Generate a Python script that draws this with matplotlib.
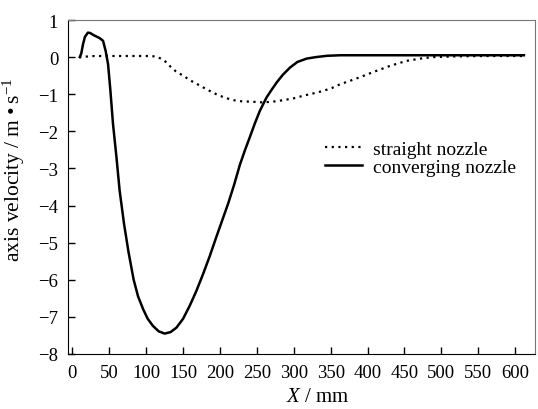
import matplotlib
matplotlib.use("Agg")
import matplotlib.pyplot as plt

plt.rcParams['font.family'] = ['Liberation Serif', 'DejaVu Serif']
plt.rcParams['mathtext.fontset'] = 'custom'
plt.rcParams['mathtext.rm'] = 'Liberation Serif'
plt.rcParams['mathtext.it'] = 'Liberation Serif:italic'

# converging nozzle
conv_x = [10, 12, 14.4, 17, 21, 24, 28, 33, 37, 41.5, 45, 48.3, 51.5, 55, 59.7, 64, 70, 76,
          83, 89, 96, 102, 109, 117, 125, 133, 141, 150, 159, 168, 177, 186, 195, 203, 211,
          219, 227, 234, 240.6, 247, 254, 263, 270, 277, 285, 295, 305, 317.5, 330, 345,
          363, 400, 450, 500, 550, 612]
conv_v = [0, 0.1, 0.35, 0.55, 0.66, 0.65, 0.6, 0.55, 0.51, 0.44, 0.17, -0.19, -0.91, -1.8,
          -2.7, -3.6, -4.5, -5.25, -6.0, -6.45, -6.8, -7.05, -7.24, -7.39, -7.45, -7.41,
          -7.29, -7.05, -6.7, -6.3, -5.85, -5.37, -4.85, -4.4, -3.95, -3.45, -2.9, -2.5,
          -2.15, -1.8, -1.45, -1.09, -0.88, -0.68, -0.48, -0.28, -0.13, -0.04, 0.0, 0.035,
          0.05, 0.05, 0.05, 0.05, 0.05, 0.05]

# straight nozzle
str_x = [9, 30, 60, 100, 112, 120, 126, 132, 140, 150, 160, 173, 184, 195, 206, 218, 229,
         240.6, 250, 258, 272, 286, 300, 313, 326, 340, 352, 363, 376, 390, 408, 430, 453,
         475, 489, 520, 560, 612]
str_v = [0, 0.03, 0.03, 0.03, 0.02, -0.04, -0.12, -0.24, -0.38, -0.5, -0.63, -0.77, -0.89,
         -1.0, -1.09, -1.16, -1.19, -1.2, -1.21, -1.22, -1.2, -1.16, -1.11, -1.04, -0.98,
         -0.91, -0.83, -0.73, -0.64, -0.54, -0.40, -0.24, -0.1, -0.03, 0.0, 0.02, 0.03, 0.03]

xticks = list(range(0, 601, 50))
yticks = list(range(-8, 2))

fig = plt.figure(figsize=(5.38, 4.10), dpi=100)
ax = fig.add_axes([68/538, 1-355/410, (535-68)/538, (355-21)/410])

ax.plot(str_x, str_v, color='black', lw=1.6, linestyle=(0, (1, 2)), label='straight nozzle')
ax.plot(conv_x, conv_v, color='black', lw=1.8, label='converging nozzle')

ax.set_xlim(-6, 627)
ax.set_ylim(-8, 1)
ax.set_xticks(xticks)
ax.set_yticks(yticks)
ax.tick_params(direction='in', length=5, width=1, labelsize=13.5, pad=7, top=False, right=False)
for s in ['top', 'right']:
    ax.spines[s].set_color('#777777')
for s in ['left', 'bottom']:
    ax.spines[s].set_color('black')

ax.set_xlabel(r'$X$ / mm', fontsize=15)
ax.set_ylabel('axis velocity / m\u2009\u2022\u2009s$^{-1}$', fontsize=15.5)
ax.xaxis.set_label_coords(0.535, -0.1)
ax.yaxis.set_label_coords(-0.088, 0.554)

ax.legend(loc='center left', bbox_to_anchor=(0.55, 0.587), frameon=False, fontsize=14,
          handlelength=1.9, handletextpad=0.6, labelspacing=0.0, borderpad=0, borderaxespad=0)

fig.savefig('out.png', dpi=100)
